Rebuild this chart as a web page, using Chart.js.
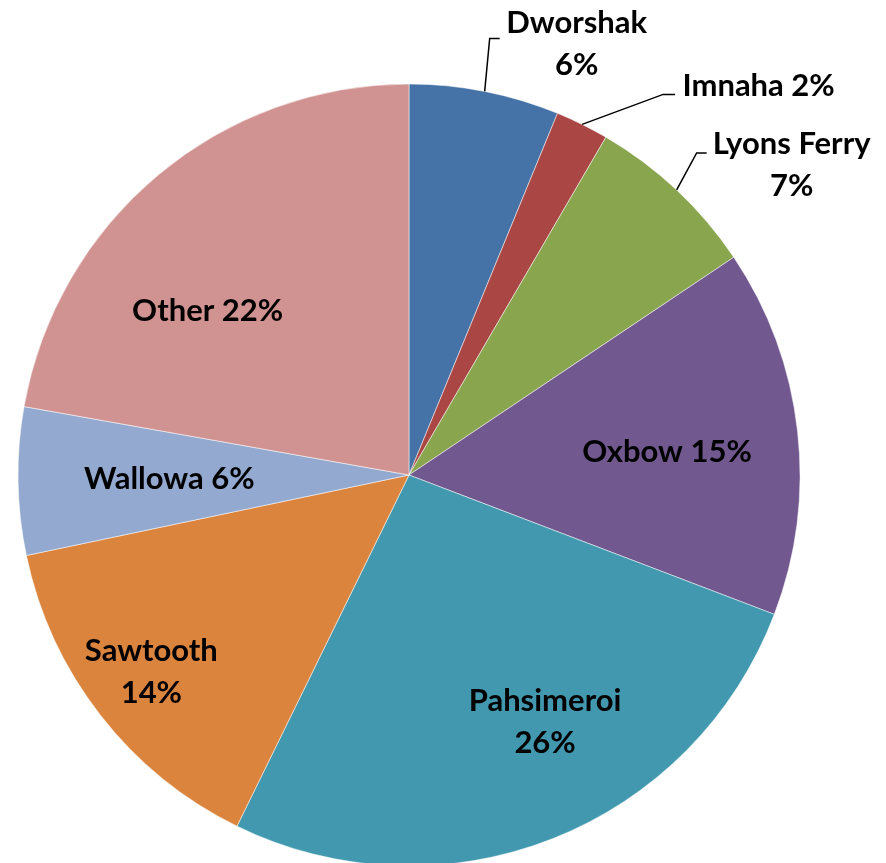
<!DOCTYPE html>
<html>
<head>
<meta charset="utf-8">
<script src="https://cdn.jsdelivr.net/npm/chart.js@4/dist/chart.umd.min.js"></script>
<style>
  html, body { margin: 0; padding: 0; background: #fff; overflow: hidden; }
  #wrap { width: 886px; height: 863px; position: relative; }
</style>
</head>
<body>
<div id="wrap"><canvas id="c"></canvas></div>
<script>
// Share of fish by hatchery (percent of total)
const hatcheries = ['Dworshak', 'Imnaha', 'Lyons Ferry', 'Oxbow', 'Pahsimeroi', 'Sawtooth', 'Wallowa', 'Other'];
const shares = [6.2, 2.2, 7.2, 15.2, 26.45, 14.45, 6.1, 22.2];
const sliceColors = ['#4572A7', '#AA4643', '#89A54E', '#71588F', '#4198AF', '#DB843D', '#93A9CF', '#D19392'];

// Label placement: outside labels hang off a leader line that starts at the
// slice's outer edge (offsets in px from that edge point); inside labels are
// placed relative to the pie centre in units of the radius.
const labelLayout = [
  { split: true,  leader: [[5, -53], [15, -53]],  text: [92, -48.5] },
  { split: false, leader: [[81, -30], [93, -30]], text: [176.5, -39] },
  { split: true,  leader: [[20, -37], [30, -37]], text: [115, -25.5] },
  { split: false, inside: [0.660, -0.061] },
  { split: true,  inside: [0.348, 0.629] },
  { split: true,  inside: [-0.659, 0.500] },
  { split: false, inside: [-0.613, 0.008] },
  { split: false, inside: [-0.515, -0.422] }
];

const sliceLabels = {
  id: 'sliceLabels',
  afterDatasetsDraw(chart) {
    const ctx = chart.ctx;
    const meta = chart.getDatasetMeta(0);
    const data = chart.data.datasets[0].data;
    const total = data.reduce((a, b) => a + b, 0);
    ctx.save();
    ctx.font = 'bold 31px Lato';
    ctx.fillStyle = '#000';
    ctx.strokeStyle = '#000';
    ctx.lineWidth = 1.5;
    ctx.textAlign = 'center';
    ctx.textBaseline = 'alphabetic';
    meta.data.forEach((arc, i) => {
      const p = arc.getProps(['x', 'y', 'startAngle', 'endAngle', 'outerRadius'], true);
      const mid = (p.startAngle + p.endAngle) / 2;
      const ex = p.x + Math.cos(mid) * p.outerRadius;
      const ey = p.y + Math.sin(mid) * p.outerRadius;
      const pct = Math.round(data[i] / total * 100) + '%';
      const L = labelLayout[i];
      const name = chart.data.labels[i];
      const lines = L.split ? [name, pct] : [name + ' ' + pct];
      let cx, cy;
      if (L.leader) {
        ctx.beginPath();
        ctx.moveTo(ex, ey);
        L.leader.forEach(([dx, dy]) => ctx.lineTo(ex + dx, ey + dy));
        ctx.stroke();
        cx = ex + L.text[0];
        cy = ey + L.text[1];
      } else {
        cx = p.x + L.inside[0] * p.outerRadius;
        cy = p.y + L.inside[1] * p.outerRadius;
      }
      const lineGap = 42;
      lines.forEach((t, k) => {
        const lc = cy + (k - (lines.length - 1) / 2) * lineGap;
        ctx.fillText(t, cx, lc + 11);
      });
    });
    ctx.restore();
  }
};

new Chart(document.getElementById('c'), {
  type: 'pie',
  data: {
    labels: hatcheries,
    datasets: [{
      data: shares,
      backgroundColor: sliceColors,
      borderColor: 'rgba(255,255,255,0.5)',
      borderWidth: 1
    }]
  },
  options: {
    responsive: true,
    maintainAspectRatio: false,
    animation: false,
    radius: 391,
    layout: { padding: { left: 21, right: 89, top: 87, bottom: 0 } },
    plugins: { legend: { display: false }, tooltip: { enabled: false } }
  },
  plugins: [sliceLabels]
});
</script>
</body>
</html>
